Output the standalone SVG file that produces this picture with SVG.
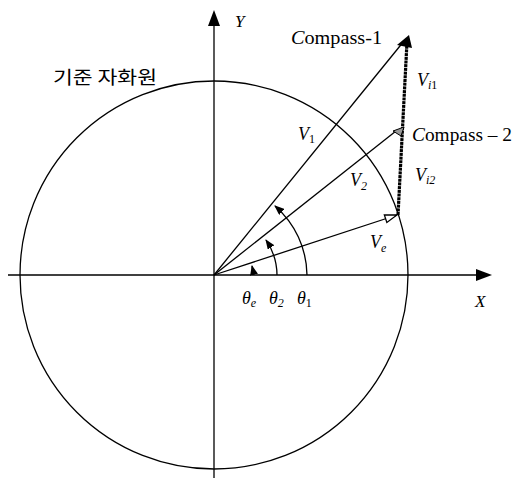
<svg xmlns="http://www.w3.org/2000/svg" width="514" height="480" viewBox="0 0 514 480">
<style>
.ln{stroke:#000;stroke-width:1.3;fill:none}
.t{font-family:"Liberation Serif","Times New Roman",serif;fill:#000}
.i{font-style:italic}
.s{font-size:12px}
</style>
<defs>
<marker id="ah" markerWidth="10" markerHeight="8" refX="9" refY="4" orient="auto" markerUnits="userSpaceOnUse"><path d="M0,0 L10,4 L0,8 Z" fill="#000"/></marker>
<marker id="oh" markerWidth="14" markerHeight="10" refX="13" refY="5" orient="auto" markerUnits="userSpaceOnUse"><path d="M1,1 L13,5 L1,9 Z" fill="#fff" stroke="#000" stroke-width="1.3"/></marker>
</defs>
<rect width="514" height="480" fill="#fff"/>
<g id="circle"><circle cx="214" cy="275" r="194" class="ln"/></g>
<g id="axes">
<line x1="8" y1="275" x2="478" y2="275" class="ln" stroke-width="1.8"/>
<path d="M492,275 L476,269 L476,281 Z" fill="#000"/>
<line x1="214" y1="478" x2="214" y2="24" class="ln" stroke-width="1.8"/>
<path d="M214,10 L208,26 L220,26 Z" fill="#000"/>
</g>
<g id="connectors">
<line x1="214" y1="275" x2="404" y2="41" class="ln"/>
<line x1="214" y1="275" x2="396" y2="131" class="ln"/>
<line x1="214" y1="275" x2="397" y2="215" class="ln" marker-end="url(#oh)"/>
<line x1="398" y1="215" x2="407" y2="42" stroke="#000" stroke-width="3.2" stroke-dasharray="3,0.7"/>
<path d="M409,35 L397,45 L412,48 Z" fill="#000"/>
<path d="M404,127 L393,131 L401,136 Z" fill="#999" stroke="#000" stroke-width="1"/>
<path d="M253,275 A39,39 0 0 0 252,266" class="ln" marker-end="url(#ah)"/>
<path d="M277,275 A63,63 0 0 0 266,240" class="ln" marker-end="url(#ah)"/>
<path d="M307,275 A93,93 0 0 0 275,206" class="ln" marker-end="url(#ah)"/>
</g>
<g id="labels">
<text x="53" y="84" font-family="'Noto Sans CJK KR',sans-serif" font-size="18" textLength="104" lengthAdjust="spacingAndGlyphs">기준 자화원</text>
<text class="t" x="291" y="44" font-size="19" textLength="91" lengthAdjust="spacingAndGlyphs"><tspan class="i">C</tspan>ompass-1</text>
<text class="t" x="412" y="141" font-size="19" textLength="100" lengthAdjust="spacingAndGlyphs"><tspan class="i">C</tspan>ompass – 2</text>
<text class="t i" x="235" y="27" font-size="17">Y</text>
<text class="t i" x="475" y="307" font-size="17">X</text>
<text class="t i" x="298" y="140" font-size="18">V<tspan class="s" dy="3" font-style="normal">1</tspan></text>
<text class="t i" x="350" y="186" font-size="18">V<tspan class="s" dy="4">2</tspan></text>
<text class="t i" x="417" y="86" font-size="18">V<tspan class="s" dy="3">i</tspan><tspan class="s" font-style="normal">1</tspan></text>
<text class="t i" x="415" y="181" font-size="18">V<tspan class="s" dy="3">i2</tspan></text>
<text class="t i" x="370" y="248" font-size="18">V<tspan class="s" dy="4">e</tspan></text>
<text class="t i" x="242" y="304" font-size="18">θ<tspan class="s" dy="3">e</tspan></text>
<text class="t i" x="269" y="304" font-size="18">θ<tspan class="s" dy="3">2</tspan></text>
<text class="t i" x="297" y="304" font-size="18">θ<tspan class="s" dy="3" font-style="normal">1</tspan></text>
</g>
</svg>
